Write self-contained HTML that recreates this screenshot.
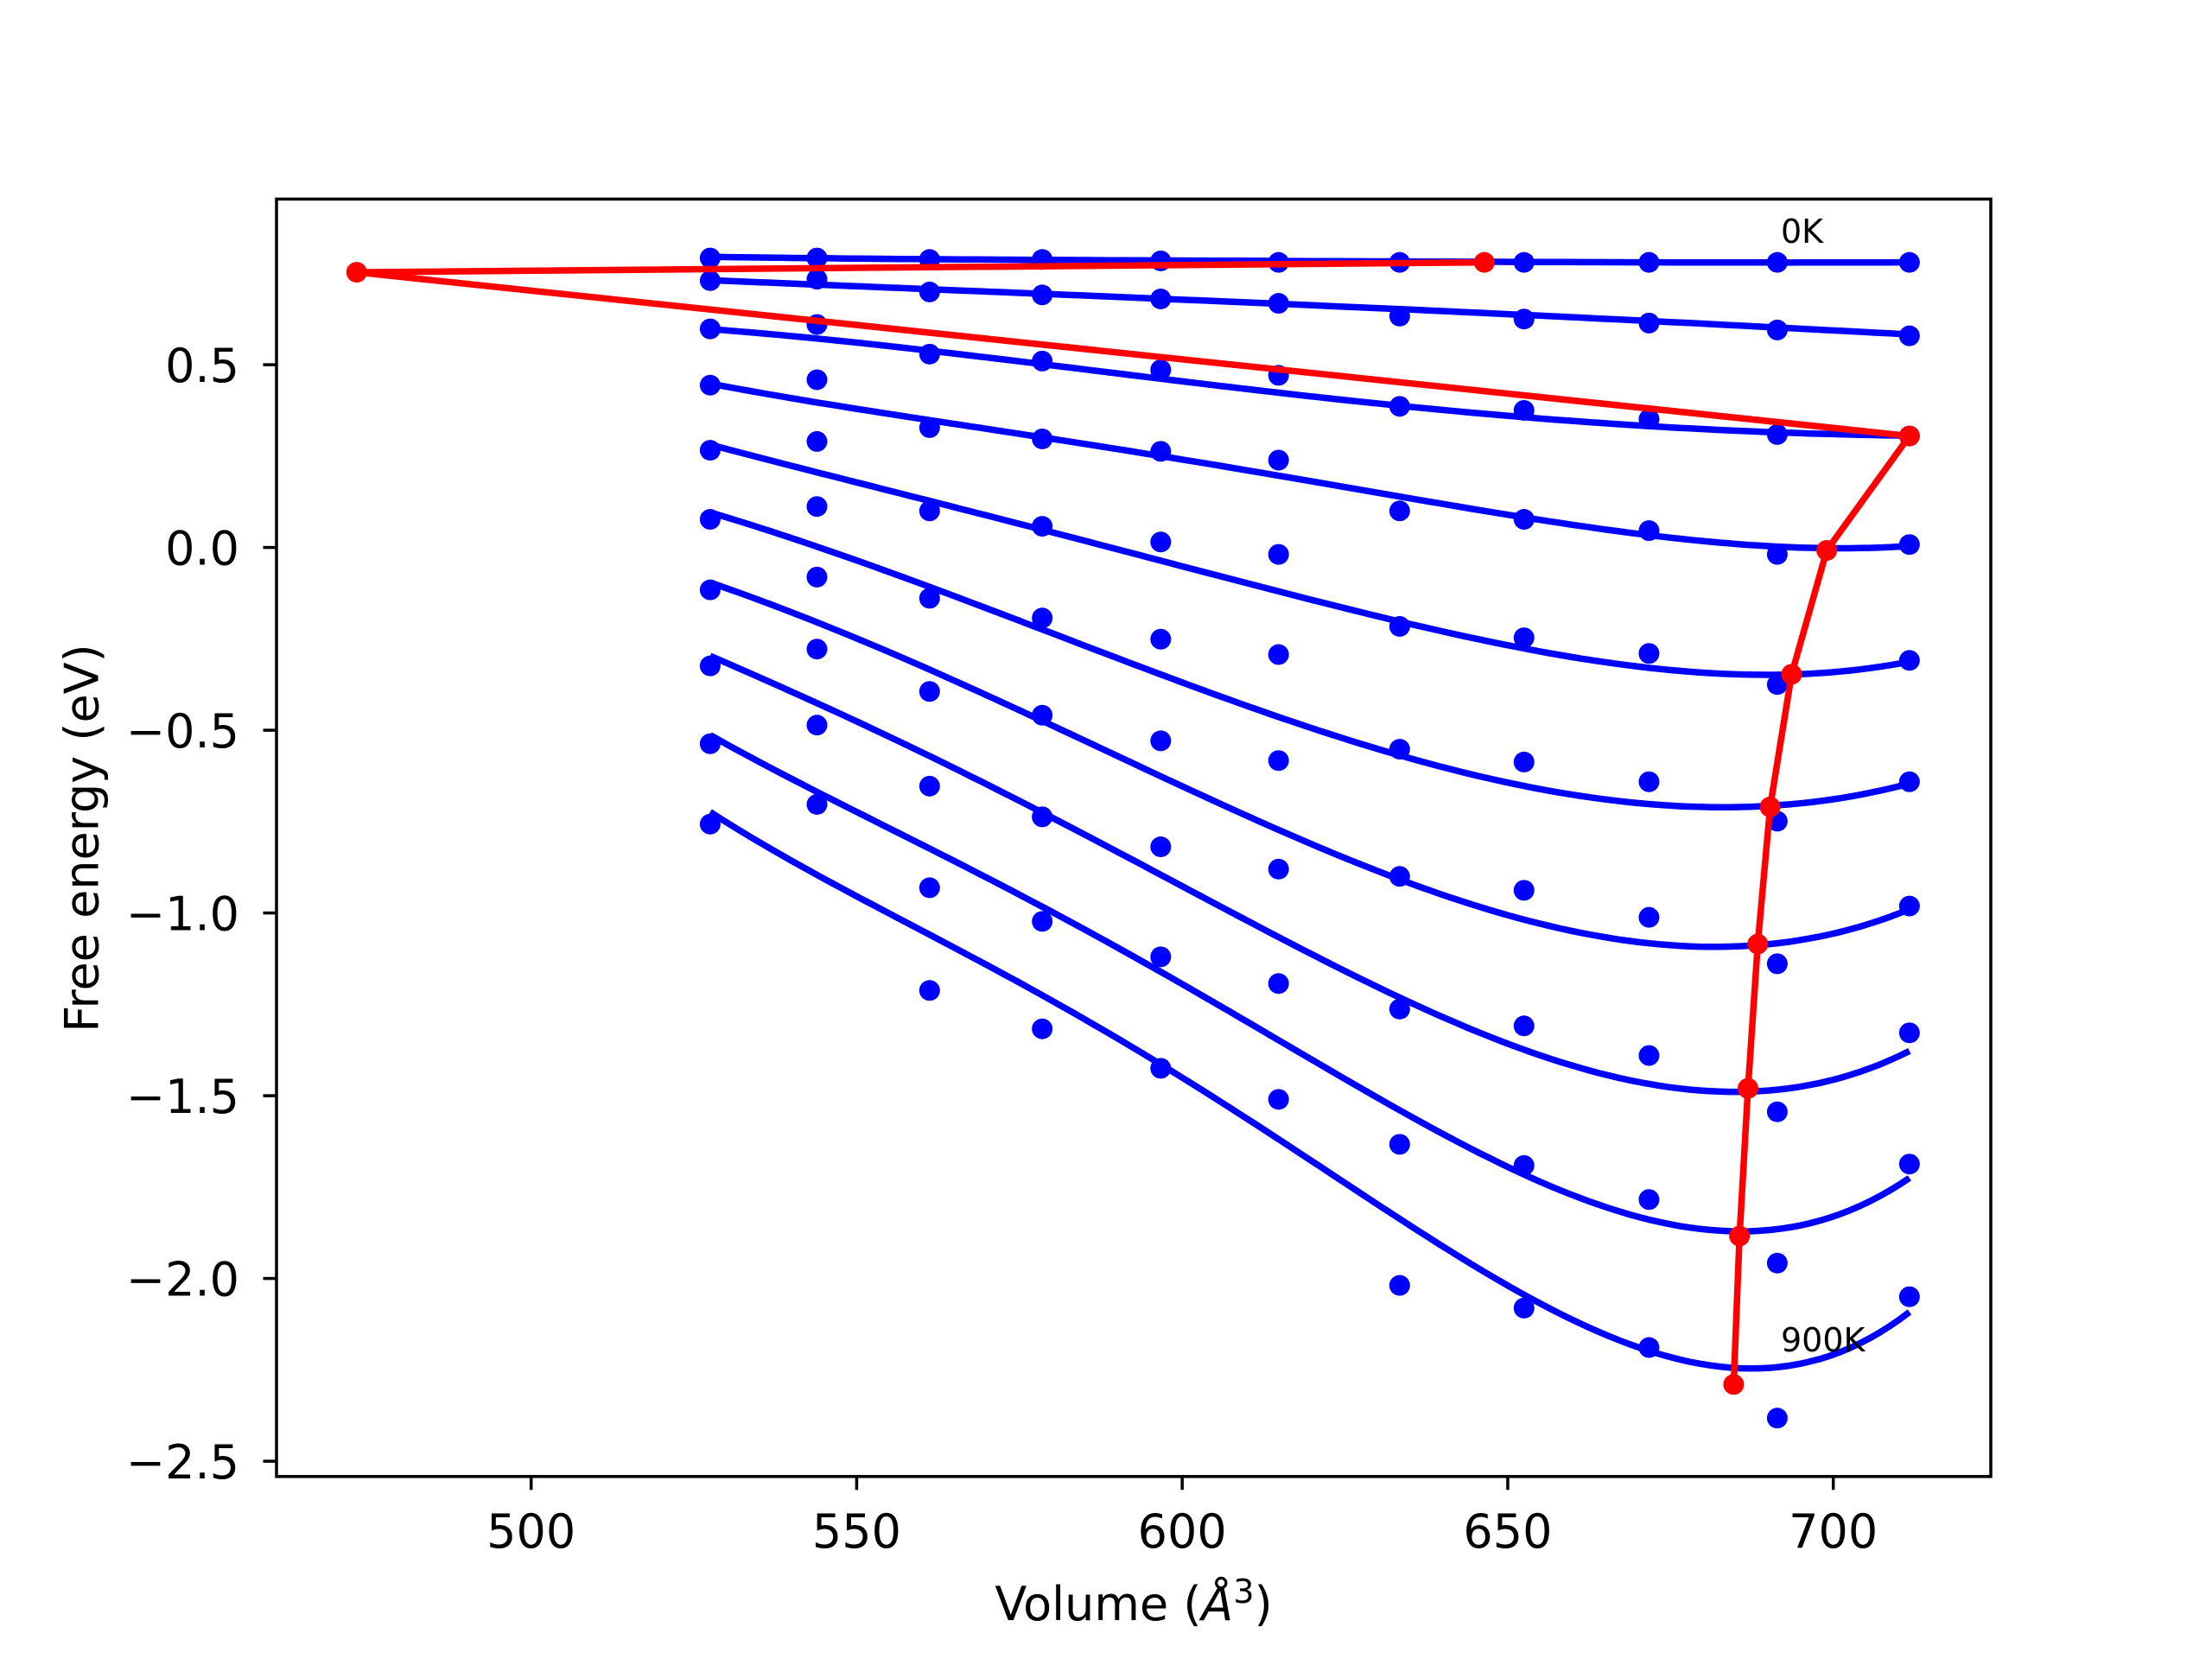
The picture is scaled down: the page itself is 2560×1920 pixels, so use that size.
<!DOCTYPE html>
<html><head><meta charset="utf-8"><style>
html,body{margin:0;padding:0;background:#fff;}
svg{display:block;font-family:"DejaVu Sans","Liberation Sans",sans-serif;}
</style></head><body>
<svg id="chart" width="2560" height="1920" viewBox="0 0 2560 1920" xmlns="http://www.w3.org/2000/svg">
<rect width="2560" height="1920" fill="#fff"/>
<g id="marks"></g>
<g id="axes"></g>
<text x="2061" y="281" font-size="38">0K</text>
<text x="2061" y="1564" font-size="38">900K</text>
<text x="1312" y="1875" font-size="54" text-anchor="middle">Volume (<tspan font-style="italic">Å</tspan><tspan font-size="38" dy="-20">3</tspan><tspan dy="20">)</tspan></text>
<text transform="translate(95,970) rotate(-90)" font-size="54" text-anchor="middle" dominant-baseline="central">Free energy (eV)</text>
</svg>
<script>
const volumes = [527.5, 543.9, 561.2, 578.5, 596.7, 614.8, 633.4, 652.5, 671.7, 691.4, 711.7];
const temperatures = ["0K","100K","200K","300K","400K","500K","600K","700K","800K","900K"];
const pts0 = [0.792,0.792,0.788,0.788,0.784,0.780,0.780,0.780,0.780,0.780,0.780];
const pts1 = [0.730,0.734,0.699,0.691,0.680,0.668,0.633,0.625,0.614,0.595,0.579];
const pts2 = [0.598,0.610,0.529,0.510,0.486,0.471,0.386,0.375,0.351,0.309,0.305];
const pts3 = [0.444,0.459,0.328,0.297,0.263,0.239,0.100,0.077,0.046,-0.019,0.008];
const pts4 = [0.266,0.290,0.100,0.058,0.015,-0.019,-0.216,-0.247,-0.290,-0.375,-0.309];
const pts5 = [0.077,0.112,-0.139,-0.193,-0.251,-0.293,-0.552,-0.587,-0.641,-0.749,-0.641];
const pts6 = [-0.116,-0.081,-0.394,-0.459,-0.529,-0.583,-0.900,-0.938,-1.012,-1.139,-0.981];
const pts7 = [-0.324,-0.278,-0.653,-0.737,-0.819,-0.880,-1.263,-1.309,-1.390,-1.544,-1.328];
const pts8 = [-0.537,-0.486,-0.931,-1.023,-1.120,-1.193,-1.633,-1.691,-1.784,-1.958,-1.687];
const pts9 = [-0.757,-0.703,-1.212,-1.317,-1.425,-1.510,-2.019,-2.081,-2.189,-2.382,-2.050];
const fit0 = [0.795,0.792,0.788,0.788,0.784,0.784,0.784,0.780,0.780,0.780,0.780];
const fit1 = [0.730,0.722,0.707,0.691,0.680,0.668,0.653,0.637,0.618,0.602,0.583];
const fit2 = [0.598,0.571,0.537,0.502,0.463,0.425,0.386,0.355,0.332,0.317,0.305];
const fit3 = [0.448,0.398,0.347,0.301,0.251,0.197,0.139,0.081,0.035,0.002,0.004];
const fit4 = [0.282,0.205,0.127,0.046,-0.031,-0.120,-0.205,-0.278,-0.328,-0.347,-0.313];
const fit5 = [0.097,0.000,-0.108,-0.224,-0.344,-0.463,-0.575,-0.653,-0.695,-0.710,-0.645];
const fit6 = [-0.093,-0.208,-0.340,-0.471,-0.618,-0.772,-0.911,-1.031,-1.073,-1.081,-0.992];
const fit7 = [-0.297,-0.425,-0.571,-0.726,-0.896,-1.066,-1.228,-1.378,-1.467,-1.483,-1.378];
const fit8 = [-0.517,-0.664,-0.819,-0.985,-1.166,-1.355,-1.537,-1.707,-1.830,-1.884,-1.718];
const fit9 = [-0.730,-0.888,-1.050,-1.228,-1.425,-1.633,-1.830,-2.023,-2.193,-2.270,-2.081];
const minVol = [646.4, 473.2, 711.7, 699.0, 693.6, 690.3, 688.4, 686.9, 685.6, 684.7];
const minE = [0.780, 0.753, 0.305, -0.008, -0.347, -0.710, -1.085, -1.480, -1.884, -2.290];
const xTicks = [500, 550, 600, 650, 700];
const yTicks = [0.5, 0.0, -0.5, -1.0, -1.5, -2.0, -2.5];
const yTickLabels = ["0.5","0.0","\u22120.5","\u22121.0","\u22121.5","\u22122.0","\u22122.5"];

const pointSets = [pts0,pts1,pts2,pts3,pts4,pts5,pts6,pts7,pts8,pts9];
const fitSets = [fit0,fit1,fit2,fit3,fit4,fit5,fit6,fit7,fit8,fit9];
const L=320,R=2304,T=230.4,B=1708.8;
const X = v => 614.7 + (v-500)*7.535;
const Y = e => 633.6 - e*423;
const NS="http://www.w3.org/2000/svg";
const marks=document.getElementById('marks');
const axes=document.getElementById('axes');
function mk(tag,attrs,parent){const el=document.createElementNS(NS,tag);for(const k in attrs)el.setAttribute(k,attrs[k]);parent.appendChild(el);return el;}

// least-squares quartic smoothing of the sampled fit values
function polyFit(xs,ys,deg){
  const m=(xs[0]+xs[xs.length-1])/2, s=(xs[xs.length-1]-xs[0])/2;
  const n=deg+1, A=[...Array(n)].map(()=>Array(n+1).fill(0));
  const pw=t=>{const p=[1];for(let i=1;i<n;i++)p.push(p[i-1]*t);return p;};
  xs.forEach((x,k)=>{const p=pw((x-m)/s);
    for(let i=0;i<n;i++){for(let j=0;j<n;j++)A[i][j]+=p[i]*p[j];A[i][n]+=p[i]*ys[k];}});
  for(let i=0;i<n;i++){let piv=i;for(let r=i+1;r<n;r++)if(Math.abs(A[r][i])>Math.abs(A[piv][i]))piv=r;
    [A[i],A[piv]]=[A[piv],A[i]];
    for(let r=0;r<n;r++){if(r===i)continue;const f=A[r][i]/A[i][i];for(let c=i;c<=n;c++)A[r][c]-=f*A[i][c];}}
  const c=A.map((row,i)=>row[n]/row[i]);
  return x=>{const p=pw((x-m)/s);let v=0;for(let i=0;i<n;i++)v+=c[i]*p[i];return v;};
}

pointSets.forEach((pts,ci)=>{
  pts.forEach((e,i)=>{
    const c=mk('circle',{cx:X(volumes[i]),cy:Y(e),r:12,fill:'#0000ff'},marks);
    
    
  });
});
fitSets.forEach((f,ci)=>{
  const fn=polyFit(volumes,f,4);
  const x0=volumes[0],x1=volumes[volumes.length-1];
  let d='';
  for(let k=0;k<=120;k++){const x=x0+(x1-x0)*k/120;d+=(k?'L':'M')+X(x).toFixed(1)+','+Y(fn(x)).toFixed(1);}
  const p=mk('path',{d:d,fill:'none',stroke:'#0000ff','stroke-width':7.5},marks);
  
  
});
const red=mk('polyline',{points:minVol.map((v,i)=>X(v)+','+Y(minE[i])).join(' '),fill:'none',stroke:'#ff0000','stroke-width':7.5,'stroke-linejoin':'round'},marks);


minVol.forEach((v,i)=>{
  const c=mk('circle',{cx:X(v),cy:Y(minE[i]),r:12,fill:'#ff0000'},marks);
  
  
});

xTicks.forEach(v=>{
  const t=mk('line',{x1:X(v),x2:X(v),y1:B,y2:B+15.5,stroke:'#000','stroke-width':3.5},axes);
  
  
  const tx=mk('text',{x:X(v),y:1791,'font-size':54,'text-anchor':'middle'},axes);
  tx.textContent=v;
  
  
});
yTicks.forEach((v,i)=>{
  const t=mk('line',{x1:L-15.5,x2:L,y1:Y(v),y2:Y(v),stroke:'#000','stroke-width':3.5},axes);
  
  
  const tx=mk('text',{x:277,y:Y(v)+20,'font-size':54,'text-anchor':'end'},axes);
  tx.textContent=yTickLabels[i];
  
  
});
const frame=mk('rect',{x:L,y:T,width:R-L,height:B-T,fill:'none',stroke:'#000','stroke-width':3.5},axes);


</script>
</body></html>
